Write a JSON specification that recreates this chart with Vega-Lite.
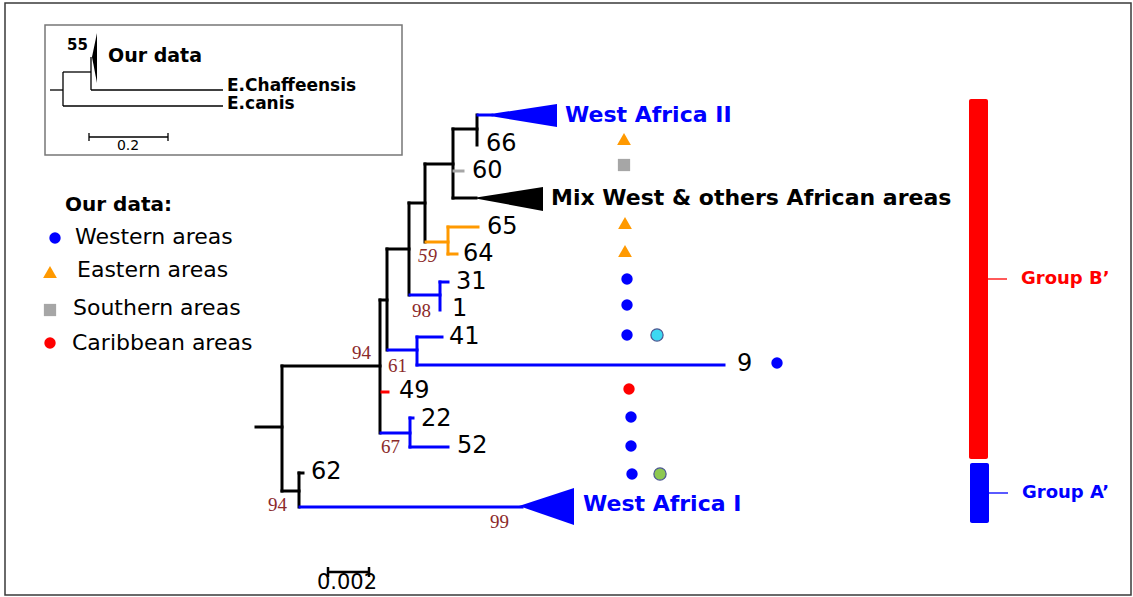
{
  "$schema": "https://vega.github.io/schema/vega-lite/v6.json",
  "width": 1133,
  "height": 597,
  "autosize": {"type": "fit", "contains": "padding"},
  "padding": 0,
  "background": "white",
  "config": {"view": {"stroke": null}},
  "datasets": {
    "boxes": [
      {"kind": "frame", "x": 5, "x2": 1131, "y": 3, "y2": 595},
      {"kind": "inset", "x": 45, "x2": 402, "y": 25, "y2": 155}
    ],
    "bars": [
      {"grp": "groupB", "x": 969, "x2": 988, "y": 99, "y2": 459},
      {"grp": "groupA", "x": 970, "x2": 989, "y": 463, "y2": 523}
    ],
    "branches": [
      {"part": "main", "grp": "backbone", "x": 256, "y": 427, "x2": 282, "y2": 427},
      {"part": "main", "grp": "backbone", "x": 282, "y": 366, "x2": 282, "y2": 491},
      {"part": "main", "grp": "backbone", "x": 282, "y": 366, "x2": 380, "y2": 366},
      {"part": "main", "grp": "backbone", "x": 380, "y": 300, "x2": 380, "y2": 433},
      {"part": "main", "grp": "backbone", "x": 380, "y": 300, "x2": 387, "y2": 300},
      {"part": "main", "grp": "backbone", "x": 387, "y": 249, "x2": 387, "y2": 350},
      {"part": "main", "grp": "backbone", "x": 387, "y": 249, "x2": 409, "y2": 249},
      {"part": "main", "grp": "backbone", "x": 409, "y": 203, "x2": 409, "y2": 295},
      {"part": "main", "grp": "backbone", "x": 409, "y": 203, "x2": 425, "y2": 203},
      {"part": "main", "grp": "backbone", "x": 425, "y": 164, "x2": 425, "y2": 242},
      {"part": "main", "grp": "backbone", "x": 425, "y": 164, "x2": 453, "y2": 164},
      {"part": "main", "grp": "backbone", "x": 453, "y": 129, "x2": 453, "y2": 198},
      {"part": "main", "grp": "backbone", "x": 453, "y": 129, "x2": 477, "y2": 129},
      {"part": "main", "grp": "backbone", "x": 477, "y": 115, "x2": 477, "y2": 145},
      {"part": "main", "grp": "backbone", "x": 453, "y": 198, "x2": 476, "y2": 198},
      {"part": "main", "grp": "backbone", "x": 282, "y": 491, "x2": 299, "y2": 491},
      {"part": "main", "grp": "backbone", "x": 299, "y": 473, "x2": 299, "y2": 507},
      {"part": "main", "grp": "backbone", "x": 299, "y": 473, "x2": 303, "y2": 473},
      {"part": "main", "grp": "western", "x": 478, "y": 115, "x2": 492, "y2": 115},
      {"part": "main", "grp": "western", "x": 410, "y": 295, "x2": 440, "y2": 295},
      {"part": "main", "grp": "western", "x": 440, "y": 282, "x2": 440, "y2": 310},
      {"part": "main", "grp": "western", "x": 440, "y": 282, "x2": 448, "y2": 282},
      {"part": "main", "grp": "western", "x": 388, "y": 350, "x2": 417, "y2": 350},
      {"part": "main", "grp": "western", "x": 417, "y": 337, "x2": 417, "y2": 365},
      {"part": "main", "grp": "western", "x": 417, "y": 337, "x2": 442, "y2": 337},
      {"part": "main", "grp": "western", "x": 417, "y": 365, "x2": 724, "y2": 365},
      {"part": "main", "grp": "western", "x": 381, "y": 433, "x2": 410, "y2": 433},
      {"part": "main", "grp": "western", "x": 410, "y": 418, "x2": 410, "y2": 447},
      {"part": "main", "grp": "western", "x": 410, "y": 418, "x2": 413, "y2": 418},
      {"part": "main", "grp": "western", "x": 410, "y": 447, "x2": 448, "y2": 447},
      {"part": "main", "grp": "western", "x": 300, "y": 507, "x2": 522, "y2": 507},
      {"part": "main", "grp": "eastern", "x": 426, "y": 242, "x2": 448, "y2": 242},
      {"part": "main", "grp": "eastern", "x": 448, "y": 227, "x2": 448, "y2": 254},
      {"part": "main", "grp": "eastern", "x": 448, "y": 227, "x2": 478, "y2": 227},
      {"part": "main", "grp": "eastern", "x": 448, "y": 254, "x2": 457, "y2": 254},
      {"part": "main", "grp": "southern", "x": 454, "y": 171, "x2": 463, "y2": 171},
      {"part": "main", "grp": "caribbean", "x": 382, "y": 392, "x2": 388, "y2": 392},
      {"part": "scale", "grp": "backbone", "x": 328, "y": 572, "x2": 369, "y2": 572},
      {"part": "scale", "grp": "backbone", "x": 328, "y": 567, "x2": 328, "y2": 577},
      {"part": "scale", "grp": "backbone", "x": 369, "y": 567, "x2": 369, "y2": 577},
      {"part": "inset", "grp": "backbone", "x": 50, "y": 90, "x2": 63, "y2": 90},
      {"part": "inset", "grp": "backbone", "x": 63, "y": 72, "x2": 63, "y2": 106},
      {"part": "inset", "grp": "backbone", "x": 63, "y": 72, "x2": 91, "y2": 72},
      {"part": "inset", "grp": "backbone", "x": 91, "y": 57, "x2": 91, "y2": 90},
      {"part": "inset", "grp": "backbone", "x": 91, "y": 90, "x2": 223, "y2": 90},
      {"part": "inset", "grp": "backbone", "x": 63, "y": 106, "x2": 223, "y2": 106},
      {"part": "inset", "grp": "backbone", "x": 89, "y": 137, "x2": 168, "y2": 137},
      {"part": "inset", "grp": "backbone", "x": 89, "y": 133, "x2": 89, "y2": 141},
      {"part": "inset", "grp": "backbone", "x": 168, "y": 133, "x2": 168, "y2": 141},
      {"part": "tick", "grp": "groupB", "x": 988, "y": 279, "x2": 1007, "y2": 279},
      {"part": "tick", "grp": "groupA", "x": 989, "y": 493, "x2": 1008, "y2": 493}
    ],
    "wedges": [
      {"id": "wa2", "grp": "western", "x": 484, "y": 115, "y2": 115},
      {"id": "wa2", "grp": "western", "x": 557, "y": 104, "y2": 127},
      {"id": "mix", "grp": "backbone", "x": 473, "y": 198, "y2": 198},
      {"id": "mix", "grp": "backbone", "x": 543, "y": 187, "y2": 211},
      {"id": "wa1", "grp": "western", "x": 519, "y": 506, "y2": 506},
      {"id": "wa1", "grp": "western", "x": 574, "y": 488, "y2": 525},
      {"id": "ours", "grp": "backbone", "x": 92, "y": 57, "y2": 57},
      {"id": "ours", "grp": "backbone", "x": 97, "y": 33, "y2": 83}
    ],
    "points": [
      {"grp": "eastern", "x": 624, "y": 139},
      {"grp": "southern", "x": 624, "y": 165},
      {"grp": "eastern", "x": 625, "y": 223},
      {"grp": "eastern", "x": 625, "y": 251},
      {"grp": "western", "x": 627, "y": 279},
      {"grp": "western", "x": 627, "y": 305},
      {"grp": "western", "x": 627, "y": 335},
      {"grp": "extra1", "x": 657, "y": 335},
      {"grp": "western", "x": 777, "y": 363},
      {"grp": "caribbean", "x": 629, "y": 389},
      {"grp": "western", "x": 631, "y": 417},
      {"grp": "western", "x": 631, "y": 446},
      {"grp": "western", "x": 632, "y": 474},
      {"grp": "extra2", "x": 660, "y": 474},
      {"grp": "western", "x": 55, "y": 238},
      {"grp": "eastern", "x": 50, "y": 272},
      {"grp": "southern", "x": 50, "y": 310},
      {"grp": "caribbean", "x": 50, "y": 343}
    ],
    "texts": [
      {"kind": "leaf", "grp": "backbone", "label": "66", "x": 486, "y": 144},
      {"kind": "leaf", "grp": "backbone", "label": "60", "x": 472, "y": 171},
      {"kind": "leaf", "grp": "backbone", "label": "65", "x": 487, "y": 227},
      {"kind": "leaf", "grp": "backbone", "label": "64", "x": 463, "y": 254},
      {"kind": "leaf", "grp": "backbone", "label": "31", "x": 456, "y": 282},
      {"kind": "leaf", "grp": "backbone", "label": "1", "x": 452, "y": 309},
      {"kind": "leaf", "grp": "backbone", "label": "41", "x": 449, "y": 337},
      {"kind": "leaf", "grp": "backbone", "label": "9", "x": 737, "y": 364},
      {"kind": "leaf", "grp": "backbone", "label": "49", "x": 399, "y": 391},
      {"kind": "leaf", "grp": "backbone", "label": "22", "x": 421, "y": 419},
      {"kind": "leaf", "grp": "backbone", "label": "52", "x": 457, "y": 446},
      {"kind": "leaf", "grp": "backbone", "label": "62", "x": 311, "y": 472},
      {"kind": "boot", "grp": "bootstrap", "label": "94", "x": 352, "y": 353},
      {"kind": "boot", "grp": "bootstrap", "label": "61", "x": 388, "y": 366},
      {"kind": "boot", "grp": "bootstrap", "label": "98", "x": 412, "y": 311},
      {"kind": "boot", "grp": "bootstrap", "label": "67", "x": 381, "y": 447},
      {"kind": "boot", "grp": "bootstrap", "label": "94", "x": 268, "y": 505},
      {"kind": "boot", "grp": "bootstrap", "label": "99", "x": 490, "y": 522},
      {"kind": "bootItalic", "grp": "bootstrap", "label": "59", "x": 418, "y": 256},
      {"kind": "clade", "grp": "western", "label": "West Africa II", "x": 565, "y": 115},
      {"kind": "clade", "grp": "backbone", "label": "Mix West & others African areas", "x": 551, "y": 198},
      {"kind": "clade", "grp": "western", "label": "West Africa I", "x": 583, "y": 504},
      {"kind": "legendTitle", "grp": "backbone", "label": "Our data:", "x": 65, "y": 205},
      {"kind": "legend", "grp": "backbone", "label": "Western areas", "x": 75, "y": 237},
      {"kind": "legend", "grp": "backbone", "label": "Eastern areas", "x": 77, "y": 270},
      {"kind": "legend", "grp": "backbone", "label": "Southern areas", "x": 73, "y": 308},
      {"kind": "legend", "grp": "backbone", "label": "Caribbean areas", "x": 72, "y": 343},
      {"kind": "insetTitle", "grp": "backbone", "label": "Our data", "x": 108, "y": 56},
      {"kind": "insetLabel", "grp": "backbone", "label": "E.Chaffeensis", "x": 227, "y": 86},
      {"kind": "insetLabel", "grp": "backbone", "label": "E.canis", "x": 227, "y": 104},
      {"kind": "insetBoot", "grp": "backbone", "label": "55", "x": 67, "y": 45},
      {"kind": "insetScale", "grp": "backbone", "label": "0.2", "x": 128, "y": 146},
      {"kind": "scale", "grp": "backbone", "label": "0.002", "x": 347, "y": 583},
      {"kind": "group", "grp": "groupB", "label": "Group B’", "x": 1021, "y": 279},
      {"kind": "group", "grp": "groupA", "label": "Group A’", "x": 1022, "y": 493}
    ]
  },
  "encoding": {
    "x": {"field": "x", "type": "quantitative", "scale": {"domain": [0, 1133], "nice": false, "zero": false}, "axis": null},
    "y": {"field": "y", "type": "quantitative", "scale": {"domain": [0, 597], "nice": false, "zero": false, "reverse": true}, "axis": null},
    "color": {"field": "grp", "type": "nominal", "legend": null,
      "scale": {"domain": ["backbone", "western", "eastern", "southern", "caribbean", "extra1", "extra2", "bootstrap", "groupB", "groupA"],
                "range": ["#000000", "#0000FF", "#FF9900", "#A6A6A6", "#FF0000", "#3DD9F2", "#8DC850", "#8B2A2A", "#FF0000", "#0000FF"]}}
  },
  "layer": [
    {
      "data": {"name": "boxes"},
      "transform": [{"filter": "datum.kind === 'frame'"}],
      "mark": {"type": "rect", "fillOpacity": 0, "strokeWidth": 1.5},
      "encoding": {"x2": {"field": "x2"}, "y2": {"field": "y2"}, "color": {"value": null}, "stroke": {"value": "#3a3a3a"}}
    },
    {
      "data": {"name": "boxes"},
      "transform": [{"filter": "datum.kind === 'inset'"}],
      "mark": {"type": "rect", "fillOpacity": 0, "strokeWidth": 1.5},
      "encoding": {"x2": {"field": "x2"}, "y2": {"field": "y2"}, "color": {"value": null}, "stroke": {"value": "#777777"}}
    },
    {
      "data": {"name": "bars"},
      "mark": {"type": "rect", "cornerRadius": 2},
      "encoding": {"x2": {"field": "x2"}, "y2": {"field": "y2"}}
    },
    {
      "data": {"name": "wedges"},
      "mark": {"type": "area", "orient": "vertical", "interpolate": "linear"},
      "encoding": {"y2": {"field": "y2"}, "detail": {"field": "id"}}
    },
    {
      "data": {"name": "branches"},
      "transform": [{"filter": "datum.part === 'main'"}],
      "mark": {"type": "rule", "strokeWidth": 3, "strokeCap": "square"},
      "encoding": {"x2": {"field": "x2"}, "y2": {"field": "y2"}}
    },
    {
      "data": {"name": "branches"},
      "transform": [{"filter": "datum.part === 'scale'"}],
      "mark": {"type": "rule", "strokeWidth": 2.5},
      "encoding": {"x2": {"field": "x2"}, "y2": {"field": "y2"}}
    },
    {
      "data": {"name": "branches"},
      "transform": [{"filter": "datum.part === 'inset' || datum.part === 'tick'"}],
      "mark": {"type": "rule", "strokeWidth": 1.3},
      "encoding": {"x2": {"field": "x2"}, "y2": {"field": "y2"}}
    },
    {
      "data": {"name": "points"},
      "transform": [{"filter": "datum.grp === 'western' || datum.grp === 'caribbean'"}],
      "mark": {"type": "point", "shape": "circle", "filled": true, "size": 130, "opacity": 1}
    },
    {
      "data": {"name": "points"},
      "transform": [{"filter": "datum.grp === 'eastern'"}],
      "mark": {"type": "point", "shape": "triangle-up", "filled": true, "size": 190, "opacity": 1}
    },
    {
      "data": {"name": "points"},
      "transform": [{"filter": "datum.grp === 'southern'"}],
      "mark": {"type": "point", "shape": "square", "filled": true, "size": 150, "opacity": 1}
    },
    {
      "data": {"name": "points"},
      "transform": [{"filter": "datum.grp === 'extra1' || datum.grp === 'extra2'"}],
      "mark": {"type": "point", "shape": "circle", "filled": true, "size": 150, "opacity": 1, "stroke": "#4a5590", "strokeWidth": 1.2}
    },
    {
      "data": {"name": "texts"},
      "transform": [{"filter": "datum.kind === 'leaf'"}],
      "mark": {"type": "text", "align": "left", "baseline": "middle", "font": "DejaVu Sans", "fontSize": 24},
      "encoding": {"text": {"field": "label"}}
    },
    {
      "data": {"name": "texts"},
      "transform": [{"filter": "datum.kind === 'boot'"}],
      "mark": {"type": "text", "align": "left", "baseline": "middle", "font": "Liberation Serif", "fontSize": 19},
      "encoding": {"text": {"field": "label"}}
    },
    {
      "data": {"name": "texts"},
      "transform": [{"filter": "datum.kind === 'bootItalic'"}],
      "mark": {"type": "text", "align": "left", "baseline": "middle", "font": "Liberation Serif", "fontStyle": "italic", "fontSize": 19},
      "encoding": {"text": {"field": "label"}}
    },
    {
      "data": {"name": "texts"},
      "transform": [{"filter": "datum.kind === 'clade'"}],
      "mark": {"type": "text", "align": "left", "baseline": "middle", "font": "DejaVu Sans", "fontWeight": "bold", "fontSize": 22},
      "encoding": {"text": {"field": "label"}}
    },
    {
      "data": {"name": "texts"},
      "transform": [{"filter": "datum.kind === 'legendTitle'"}],
      "mark": {"type": "text", "align": "left", "baseline": "middle", "font": "DejaVu Sans", "fontWeight": "bold", "fontSize": 20},
      "encoding": {"text": {"field": "label"}}
    },
    {
      "data": {"name": "texts"},
      "transform": [{"filter": "datum.kind === 'legend'"}],
      "mark": {"type": "text", "align": "left", "baseline": "middle", "font": "DejaVu Sans", "fontSize": 22},
      "encoding": {"text": {"field": "label"}}
    },
    {
      "data": {"name": "texts"},
      "transform": [{"filter": "datum.kind === 'insetTitle'"}],
      "mark": {"type": "text", "align": "left", "baseline": "middle", "font": "DejaVu Sans", "fontWeight": "bold", "fontSize": 19},
      "encoding": {"text": {"field": "label"}}
    },
    {
      "data": {"name": "texts"},
      "transform": [{"filter": "datum.kind === 'insetLabel'"}],
      "mark": {"type": "text", "align": "left", "baseline": "middle", "font": "DejaVu Sans", "fontWeight": "bold", "fontSize": 17},
      "encoding": {"text": {"field": "label"}}
    },
    {
      "data": {"name": "texts"},
      "transform": [{"filter": "datum.kind === 'insetBoot'"}],
      "mark": {"type": "text", "align": "left", "baseline": "middle", "font": "DejaVu Sans", "fontWeight": "bold", "fontSize": 15},
      "encoding": {"text": {"field": "label"}}
    },
    {
      "data": {"name": "texts"},
      "transform": [{"filter": "datum.kind === 'insetScale'"}],
      "mark": {"type": "text", "align": "center", "baseline": "middle", "font": "DejaVu Sans", "fontSize": 14},
      "encoding": {"text": {"field": "label"}}
    },
    {
      "data": {"name": "texts"},
      "transform": [{"filter": "datum.kind === 'scale'"}],
      "mark": {"type": "text", "align": "center", "baseline": "middle", "font": "DejaVu Sans", "fontSize": 21},
      "encoding": {"text": {"field": "label"}}
    },
    {
      "data": {"name": "texts"},
      "transform": [{"filter": "datum.kind === 'group'"}],
      "mark": {"type": "text", "align": "left", "baseline": "middle", "font": "DejaVu Sans", "fontWeight": "bold", "fontSize": 18},
      "encoding": {"text": {"field": "label"}}
    }
  ]
}
